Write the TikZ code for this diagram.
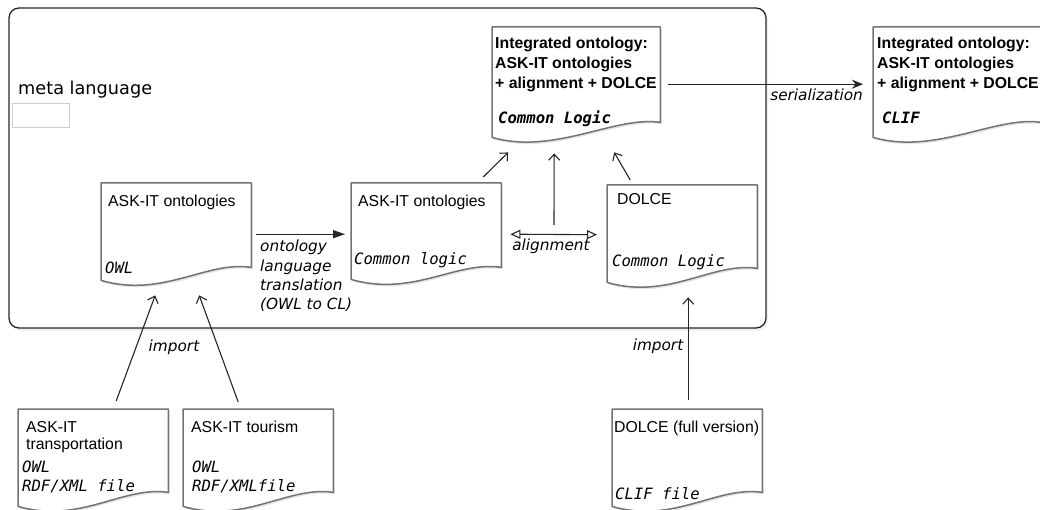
\documentclass[tikz,border=0pt]{standalone}
\usepackage{fontspec}
\setmainfont{Liberation Sans}
\newfontfamily\vera{DejaVu Sans}[ItalicFont={DejaVu Sans Oblique}]
\newfontfamily\veramono{DejaVu Sans Mono}[BoldFont={DejaVu Sans Mono Bold},ItalicFont={DejaVu Sans Mono Oblique},BoldItalicFont={DejaVu Sans Mono Bold Oblique}]
\usepackage{tikz}
\usetikzlibrary{arrows.meta,backgrounds,calc,positioning,shadows}

\newcommand{\docframe}[2]{%
\path [docline] (#1.north west) -- (#1.north east) -- (#1.south east)
 .. controls ($(#1.south east)+(-45,-7)$) and ($(#1.south west)+(62,#2+18)$) .. ($(#1.south west)+(0,#2)$) -- cycle;}

\begin{document}
\begin{tikzpicture}[x=1pt,y=-1pt,
 docline/.style={draw=black!55, line width=1.5pt, fill=white, line join=round, drop shadow={opacity=0.2, shadow xshift=1.5pt, shadow yshift=-2pt}},
 metaframe/.style={draw=black!85, line width=1.3pt, rounded corners=10pt, fill=white, drop shadow={opacity=0.12, shadow xshift=2pt, shadow yshift=-3pt}},
 doc/.style={rectangle, inner sep=0pt, anchor=north west, minimum width=150pt, minimum height=83pt},
 widedoc/.style={doc, minimum width=168pt, minimum height=95pt},
 doctitle/.style={inner sep=0pt, anchor=north west, align=left, font=\fontsize{15.8}{17}\selectfont},
 boldtitle/.style={doctitle, font=\fontsize{15.8}{20}\selectfont\bfseries},
 fmt/.style={inner sep=0pt, anchor=west, align=left, font=\fontsize{15.6}{19}\selectfont\veramono\itshape},
 boldfmt/.style={fmt, font=\fontsize{15.6}{19}\selectfont\veramono\bfseries\itshape},
 note/.style={inner sep=0pt, align=left, font=\fontsize{15.3}{19.3}\selectfont\vera\itshape},
 link/.style={draw=black!85, line width=1.1pt, -{Straight Barb[length=6pt,width=11pt]}},
 transarrow/.style={draw=black!85, line width=1.1pt, -{Triangle[length=12pt,width=8pt]}},
 serial/.style={draw=black!85, line width=1.1pt, -{Stealth[length=11pt,width=9pt]}},
 alignarrow/.style={draw=black!85, line width=1.1pt, {Triangle[open,length=10pt,width=9pt]}-{Triangle[open,length=10pt,width=9pt]}}
]
\useasboundingbox (0,0) rectangle (1040,510);

\node[doc, minimum height=84pt] (owlonto) at (101,183) {};
\node[doc, minimum height=84pt] (clonto) at (351,183) {};
\node[doc] (dolce) at (607,185) {};
\node[widedoc] (integ) at (492,27) {};
\node[widedoc] (clif) at (873,27) {};
\node[doc] (transp) at (18,409) {};
\node[doc] (tourism) at (183,409) {};
\node[doc] (dolcefull) at (612,409) {};

\begin{scope}[on background layer]
\path [metaframe] (9,8) rectangle (766,328);
\docframe{owlonto}{13}
\docframe{clonto}{12}
\docframe{dolce}{14}
\docframe{integ}{15}
\docframe{clif}{15}
\docframe{transp}{14}
\docframe{tourism}{14}
\docframe{dolcefull}{14}
\end{scope}

\node[anchor=west, inner sep=0pt, font=\fontsize{17.7}{20}\selectfont\vera] (metalabel) at (18,90) {meta language};
\node[draw=black!20, line width=0.8pt, anchor=north west, inner sep=0pt, minimum width=57pt, minimum height=24pt] (metakey) at (12,103) {};

\node[doctitle] (owlontotitle) at ($(owlonto.north west)+(7,12)$) {ASK-IT ontologies};
\node[fmt] (owlontofmt) at ($(owlonto.south west)+(4,0)$) {OWL};
\node[doctitle] (clontotitle) at ($(clonto.north west)+(7,12)$) {ASK-IT ontologies};
\node[fmt] (clontofmt) at ($(clonto.south west)+(3,-7)$) {Common logic};
\node[doctitle] (dolcetitle) at ($(dolce.north west)+(10,8)$) {DOLCE};
\node[fmt] (dolcefmt) at ($(dolce.south west)+(5,-6)$) {Common Logic};
\node[boldtitle] (integtitle) at ($(integ.north west)+(3,10)$) {Integrated ontology:\\ASK-IT ontologies\\+ alignment + DOLCE};
\node[boldfmt] (integfmt) at ($(integ.south west)+(6,-4)$) {Common Logic};
\node[boldtitle] (cliftitle) at ($(clif.north west)+(4,10)$) {Integrated ontology:\\ASK-IT ontologies\\+ alignment + DOLCE};
\node[boldfmt] (cliffmt) at ($(clif.south west)+(9,-5)$) {CLIF};
\node[doctitle] (transptitle) at ($(transp.north west)+(8,12)$) {ASK-IT\\transportation};
\node[fmt, anchor=north west] (transpfmt) at ($(transp.north west)+(4,52)$) {OWL\\RDF/XML file};
\node[doctitle] (tourismtitle) at ($(tourism.north west)+(8,12)$) {ASK-IT tourism};
\node[fmt, anchor=north west] (tourismfmt) at ($(tourism.north west)+(9,52)$) {OWL\\RDF/XMLfile};
\node[doctitle] (dolcefulltitle) at ($(dolcefull.north west)+(2,12)$) {DOLCE (full version)};
\node[fmt] (dolcefullfmt) at ($(dolcefull.south west)+(3,1)$) {CLIF file};

\coordinate (alignmid) at (554,225);
\draw[transarrow] ($(owlonto.east)+(5,9)$) -- ($(clonto.west)+(-6,9)$);
\node[note, anchor=north west] (translabel) at (260,240) {ontology\\language\\translation\\(OWL to CL)};
\draw[alignarrow] ($(clonto.east)+(9,9)$) -- ($(dolce.west)+(-10,8)$);
\node[note, anchor=base] (alignlabel) at (551,251) {alignment};
\draw[link] (alignmid) -- ($(integ.south)+(-22,31)$);
\draw[link] ($(clonto.north)+(57,-6)$) -- ($(integ.south)+(-68,30)$);
\draw[link] ($(dolce.north)+(-52,-5)$) -- ($(integ.south)+(38,30)$);
\draw[serial] ($(integ.east)+(8,9.5)$) -- ($(clif.west)+(-10,9.5)$);
\node[note, anchor=base east] (seriallabel) at (863,101) {serialization};
\draw[link] ($(transp.north)+(23,-8)$) -- ($(owlonto.south)+(-21,28)$);
\draw[link] ($(tourism.north)+(-20,-7)$) -- ($(owlonto.south)+(23,28)$);
\node[note, anchor=base] (importlabel) at (174,351) {import};
\draw[link] ($(dolcefull.north)+(1,-9)$) -- ($(dolce.south)+(6,29)$);
\node[note, anchor=base] (dolceimport) at (658,350) {import};
\end{tikzpicture}
\end{document}
